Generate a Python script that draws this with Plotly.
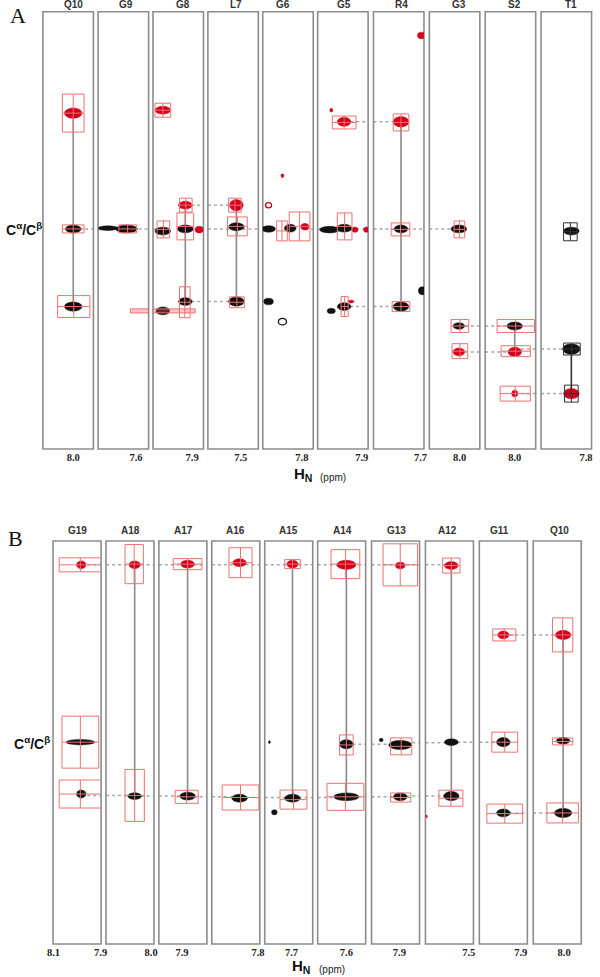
import plotly.graph_objects as go

# ---------------- panel A (residues T1..Q10) ----------------
a_res = ['Q10', 'G9', 'G8', 'L7', 'G6', 'G5', 'R4', 'G3', 'S2', 'T1']
a_hn_left = [8.120, 7.750, 8.055, 7.630, 7.955, 8.075, 7.886, 8.120, 8.117, 7.978]
a_strip_hn = [8.000, 7.640, 7.935, 7.517, 7.873, 7.970, 7.777, 8.003, 8.000, 7.858]
a_ticks = [[8.0], [7.6], [7.9], [7.5], [7.8], [7.9], [7.7], [8.0], [8.0], [7.8]]
a_c_range = [14.8, 75.6]

# peaks: (strip, 1H ppm, 13C ppm, kind, half linewidth H, half linewidth C)
a_peaks = [
    (0, 8.000, 28.9, 'r', 0.035, 0.56), (0, 8.000, 45.0, 'k', 0.031, 0.42),
    (0, 8.000, 55.8, 'k', 0.035, 0.49),
    (1, 7.637, 45.0, 'k', 0.043, 0.42), (1, 7.711, 44.9, 'k', 0.039, 0.25),
    (2, 8.016, 28.5, 'r', 0.031, 0.42), (2, 7.927, 41.7, 'r', 0.027, 0.42),
    (2, 7.927, 45.0, 'k', 0.031, 0.42), (2, 8.016, 45.3, 'k', 0.031, 0.42),
    (2, 7.872, 45.1, 'r', 0.016, 0.35), (2, 7.927, 55.1, 'k', 0.027, 0.42),
    (2, 8.016, 56.4, 'k', 0.027, 0.42),
    (3, 7.517, 41.7, 'r', 0.027, 0.60), (3, 7.517, 44.7, 'k', 0.031, 0.42),
    (3, 7.517, 55.1, 'k', 0.031, 0.49),
    (4, 7.932, 41.7, 'ro', 0.012, 0.28), (4, 7.877, 37.6, 'r', 0.006, 0.20),
    (4, 7.932, 45.0, 'k', 0.027, 0.35), (4, 7.846, 44.9, 'k', 0.023, 0.42),
    (4, 7.788, 44.7, 'r', 0.016, 0.35), (4, 7.932, 55.1, 'k', 0.019, 0.35),
    (4, 7.877, 57.9, 'ko', 0.016, 0.35),
    (5, 8.021, 28.5, 'r', 0.006, 0.20), (5, 7.970, 30.1, 'r', 0.027, 0.49),
    (5, 8.028, 45.1, 'k', 0.039, 0.35), (5, 7.970, 44.9, 'k', 0.031, 0.42),
    (5, 7.927, 45.1, 'r', 0.012, 0.28), (5, 7.881, 45.1, 'r', 0.012, 0.28),
    (5, 8.021, 56.4, 'k', 0.016, 0.28), (5, 7.970, 55.8, 'k', 0.027, 0.42),
    (5, 7.943, 55.1, 'r', 0.012, 0.15),
    (6, 7.777, 30.1, 'r', 0.031, 0.56), (6, 7.696, 18.1, 'r', 0.016, 0.35),
    (6, 7.777, 45.0, 'k', 0.027, 0.42), (6, 7.777, 55.8, 'k', 0.031, 0.49),
    (6, 7.692, 53.6, 'k', 0.016, 0.42),
    (7, 8.003, 45.0, 'k', 0.031, 0.42), (7, 8.003, 58.5, 'k', 0.023, 0.35),
    (7, 8.003, 62.1, 'r', 0.023, 0.42),
    (8, 8.000, 58.5, 'k', 0.031, 0.42), (8, 8.000, 62.1, 'r', 0.027, 0.49),
    (8, 8.000, 67.9, 'r', 0.012, 0.35),
    (9, 7.858, 45.3, 'k', 0.031, 0.42), (9, 7.858, 61.7, 'k', 0.035, 0.56),
    (9, 7.858, 67.9, 'r', 0.031, 0.56),
]

# assignment boxes: (strip, 1H, 13C, half width H, half width C, style)
a_boxes = [
    (0, 8.000, 28.9, 0.043, 2.64, 'r'), (0, 8.000, 45.0, 0.043, 0.56, 'r'),
    (0, 7.998, 55.8, 0.064, 1.53, 'r'),
    (1, 7.633, 45.0, 0.035, 0.56, 'r'), (1, 7.494, 56.4, 0.128, 0.28, 'rf'),
    (2, 8.016, 28.5, 0.031, 0.97, 'r'), (2, 7.925, 41.7, 0.025, 0.97, 'r'),
    (2, 7.927, 44.65, 0.033, 1.875, 'r'), (2, 8.014, 45.07, 0.025, 1.18, 'r'),
    (2, 7.929, 55.2, 0.021, 2.15, 'r'), (2, 8.016, 56.4, 0.128, 0.28, 'rf'),
    (3, 7.523, 41.7, 0.025, 0.97, 'r'), (3, 7.513, 44.65, 0.039, 1.32, 'r'),
    (3, 7.515, 55.2, 0.029, 0.76, 'r'),
    (4, 7.879, 45.28, 0.021, 1.39, 'r'), (4, 7.809, 44.65, 0.041, 2.01, 'r'),
    (5, 7.970, 30.2, 0.047, 0.90, 'r'), (5, 7.968, 44.65, 0.029, 1.875, 'r'),
    (5, 7.968, 55.8, 0.014, 1.39, 'r'),
    (6, 7.777, 30.2, 0.031, 1.18, 'r'), (6, 7.779, 45.07, 0.037, 0.90, 'r'),
    (6, 7.777, 55.8, 0.035, 0.69, 'r'),
    (7, 8.001, 45.07, 0.021, 1.18, 'r'), (7, 7.999, 58.5, 0.035, 0.90, 'r'),
    (7, 7.999, 62.0, 0.031, 1.04, 'r'),
    (8, 7.996, 58.5, 0.074, 0.90, 'r'), (8, 7.996, 62.0, 0.058, 0.76, 'r'),
    (8, 7.998, 67.9, 0.060, 1.04, 'r'),
    (9, 7.862, 45.4, 0.027, 1.25, 'k'), (9, 7.856, 61.7, 0.033, 0.83, 'k'),
    (9, 7.858, 67.9, 0.027, 1.18, 'k'),
]

# intra-residue connections: (strip, 1H, C from, C to, style)
a_vlines = [
    (0, 8.000, 28.9, 55.8, 'g'), (2, 7.927, 41.7, 55.1, 'g'),
    (3, 7.517, 41.7, 55.1, 'g'), (6, 7.777, 30.1, 55.8, 'g'),
    (8, 8.000, 58.5, 62.1, 'g'), (9, 7.858, 61.7, 67.9, 'k'),
]

# sequential walk: (strip a, 1H a, strip b, 1H b, 13C)
a_links = [
    (0, 8.000, 1, 7.637, 45.0), (1, 7.637, 2, 8.016, 45.0), (2, 7.927, 3, 7.517, 45.0),
    (3, 7.517, 4, 7.932, 45.0), (4, 7.788, 5, 8.028, 45.0), (5, 7.970, 6, 7.777, 45.0),
    (6, 7.777, 7, 8.003, 45.0), (2, 7.927, 3, 7.517, 41.7), (5, 7.970, 6, 7.777, 30.1),
    (2, 7.927, 3, 7.517, 55.1), (5, 7.970, 6, 7.777, 55.8), (7, 8.003, 8, 8.000, 58.5),
    (7, 8.003, 8, 8.000, 62.1), (8, 8.000, 9, 7.858, 61.7), (8, 8.000, 9, 7.858, 67.9),
]

# ---------------- panel B (residues Q10..G19) ----------------
b_res = ['G19', 'A18', 'A17', 'A16', 'A15', 'A14', 'G13', 'A12', 'G11', 'Q10']
b_hn_left = [8.102, 8.192, 7.998, 7.996, 7.814, 7.722, 8.018, 7.684, 8.076, 8.131]
b_strip_hn = [7.982, 8.070, 7.876, 7.878, 7.696, 7.600, 7.896, 7.574, 7.974, 8.004]
b_ticks = [[8.1, 7.9], [8.0], [7.9], [7.8], [7.7], [7.6], [7.9], [7.5], [7.9], [8.0]]
b_c_range = [15.6, 73.1]

b_peaks = [
    (0, 7.982, 19.0, 'r', 0.020, 0.43), (0, 7.986, 44.3, 'k', 0.061, 0.30),
    (0, 7.982, 51.7, 'k', 0.020, 0.43),
    (1, 8.070, 19.0, 'r', 0.024, 0.43), (1, 8.070, 52.0, 'k', 0.029, 0.36),
    (2, 7.876, 18.9, 'r', 0.029, 0.43), (2, 7.876, 52.0, 'k', 0.033, 0.43),
    (3, 7.878, 18.7, 'r', 0.029, 0.43), (3, 7.878, 52.3, 'k', 0.033, 0.43),
    (4, 7.696, 18.9, 'r', 0.024, 0.43), (4, 7.696, 52.3, 'k', 0.033, 0.43),
    (4, 7.773, 54.3, 'k', 0.012, 0.28), (4, 7.794, 44.3, 'k', 0.004, 0.15),
    (5, 7.600, 19.0, 'r', 0.041, 0.50), (5, 7.600, 44.6, 'k', 0.029, 0.50),
    (5, 7.600, 52.1, 'k', 0.053, 0.43),
    (6, 7.896, 19.1, 'r', 0.020, 0.36), (6, 7.896, 44.7, 'k', 0.049, 0.50),
    (6, 7.977, 44.0, 'k', 0.008, 0.20), (6, 7.896, 52.1, 'k', 0.029, 0.43),
    (7, 7.574, 19.1, 'r', 0.029, 0.43), (7, 7.574, 44.3, 'k', 0.029, 0.36),
    (7, 7.574, 52.0, 'k', 0.033, 0.50), (7, 7.680, 54.9, 'r', 0.004, 0.15),
    (8, 7.974, 29.0, 'r', 0.024, 0.43), (8, 7.974, 44.3, 'k', 0.029, 0.50),
    (8, 7.974, 54.4, 'k', 0.029, 0.43),
    (9, 8.004, 29.0, 'r', 0.033, 0.50), (9, 8.004, 44.1, 'k', 0.029, 0.36),
    (9, 8.004, 54.4, 'k', 0.037, 0.50),
]

b_boxes = [
    (0, 7.986, 19.0, 0.090, 1.00, 'r'), (0, 7.986, 44.3, 0.078, 3.71, 'r'),
    (0, 7.986, 51.7, 0.090, 2.00, 'r'),
    (1, 8.072, 18.9, 0.039, 2.79, 'r'), (1, 8.070, 51.9, 0.041, 3.71, 'r'),
    (2, 7.876, 18.9, 0.061, 0.79, 'r'), (2, 7.880, 52.1, 0.049, 0.93, 'r'),
    (3, 7.874, 18.7, 0.049, 2.14, 'r'), (3, 7.874, 52.2, 0.078, 1.79, 'r'),
    (4, 7.696, 18.9, 0.033, 0.64, 'r'), (4, 7.692, 52.5, 0.057, 1.36, 'r'),
    (5, 7.604, 18.9, 0.061, 2.07, 'r'), (5, 7.600, 44.7, 0.029, 1.43, 'r'),
    (5, 7.604, 52.1, 0.078, 1.93, 'r'),
    (6, 7.896, 19.0, 0.073, 3.00, 'r'), (6, 7.892, 44.9, 0.045, 1.21, 'r'),
    (6, 7.894, 52.2, 0.043, 0.64, 'r'),
    (7, 7.574, 19.1, 0.037, 1.07, 'r'), (7, 7.576, 52.3, 0.051, 1.14, 'r'),
    (8, 7.970, 29.0, 0.049, 0.86, 'r'), (8, 7.968, 44.3, 0.055, 1.43, 'r'),
    (8, 7.968, 54.5, 0.076, 1.36, 'r'),
    (9, 8.006, 29.0, 0.043, 2.43, 'r'), (9, 8.006, 44.2, 0.043, 0.50, 'r'),
    (9, 8.006, 54.4, 0.067, 1.43, 'r'),
]

b_vlines = [
    (1, 8.070, 19.0, 52.0, 'g'), (2, 7.876, 18.9, 52.0, 'g'), (4, 7.696, 18.9, 52.3, 'g'),
    (5, 7.600, 19.0, 52.1, 'g'), (7, 7.574, 19.1, 52.0, 'g'), (9, 8.004, 29.0, 54.4, 'g'),
]

b_links = [
    (0, 7.982, 1, 8.070, 19.0), (1, 8.070, 2, 7.876, 19.0), (2, 7.876, 3, 7.878, 19.0),
    (3, 7.878, 4, 7.696, 19.0), (4, 7.696, 5, 7.600, 19.0), (5, 7.600, 6, 7.896, 19.0),
    (6, 7.896, 7, 7.574, 19.0),
    (5, 7.600, 6, 7.896, 44.6), (6, 7.896, 7, 7.574, 44.4), (7, 7.574, 8, 7.974, 44.3),
    (0, 7.982, 1, 8.070, 51.9), (1, 8.070, 2, 7.876, 52.0), (2, 7.876, 3, 7.878, 52.1),
    (3, 7.878, 4, 7.696, 52.2), (4, 7.696, 5, 7.600, 52.2), (5, 7.600, 6, 7.896, 52.1),
    (6, 7.896, 7, 7.574, 52.0),
    (8, 7.974, 9, 8.004, 29.0), (8, 7.974, 9, 8.004, 54.4),
]

# ---------------- layout geometry (pixels) ----------------
W, H = 600, 977
RED = '#d3001c'
BLACK = '#111111'
BOX_RED = '#ee7272'
GRAY = '#8c8c8c'
C_SCALE = 1.3   # contour blobs drawn a little taller than the fitted linewidth

panels = [
    dict(res=a_res, left=a_hn_left, hn=a_strip_hn, ticks=a_ticks, crange=a_c_range,
         peaks=a_peaks, boxes=a_boxes, vlines=a_vlines, links=a_links,
         px=[37.7, 94, 150, 206, 262, 318, 375, 432, 489, 546], pw=51.5,
         top=11.7, bot=449, span=0.2, yname='y', lab_shift=0, lab_x=0),
    dict(res=b_res, left=b_hn_left, hn=b_strip_hn, ticks=b_ticks, crange=b_c_range,
         peaks=b_peaks, boxes=b_boxes, vlines=b_vlines, links=b_links,
         px=[48, 102, 156, 210, 264, 318, 373, 428, 483, 538], pw=49,
         top=541, bot=944, span=0.204, yname='y2', lab_shift=3, lab_x=-4),
]

fig = go.Figure()
layout_axes = {}
shapes = []
annotations = []

for p, pan in enumerate(panels):
    yname = pan['yname']
    xnames = []
    for i in range(10):
        n = p * 10 + i + 1
        xn = 'x' if n == 1 else f'x{n}'
        xnames.append(xn)
        key = 'xaxis' if n == 1 else f'xaxis{n}'
        L = pan['left'][i]
        layout_axes[key] = dict(
            domain=[pan['px'][i] / W, (pan['px'][i] + pan['pw']) / W],
            anchor=yname, range=[L, L - pan['span']],
            tickmode='array', tickvals=pan['ticks'][i],
            ticktext=[f'{t:.1f}' for t in pan['ticks'][i]],
            showgrid=False, zeroline=False, showline=False, ticks='',
            tickfont=dict(family='Liberation Serif', size=10.5, color='#222', weight='bold'),
            fixedrange=True)
        # strip frame
        shapes.append(dict(type='rect', xref=f'{xn} domain', yref=f'{yname} domain',
                           x0=0, x1=1, y0=0, y1=1, line=dict(color=GRAY, width=1.6)))
        # residue label
        annotations.append(dict(text=f'<b>{pan["res"][i]}</b>', xref=xn, x=pan['hn'][i],
                                yref=f'{yname} domain', y=1, yanchor='bottom',
                                yshift=pan['lab_shift'], xshift=pan['lab_x'], showarrow=False,
                                font=dict(family='Liberation Sans', size=10, color='#333')))
    ykey = 'yaxis' if p == 0 else 'yaxis2'
    layout_axes[ykey] = dict(domain=[1 - pan['bot'] / H, 1 - pan['top'] / H],
                             anchor=xnames[0], range=[pan['crange'][1], pan['crange'][0]],
                             visible=False, fixedrange=True)

    # sequential dotted walk
    for sa, ha, sb, hb, c in pan['links']:
        end_a = pan['left'][sa] - pan['span']
        start_b = pan['left'][sb]
        for xn, xs in ((xnames[sa], [ha, end_a]), (xnames[sb], [start_b, hb])):
            fig.add_trace(go.Scatter(x=xs, y=[c, c], xaxis=xn, yaxis=yname, mode='lines',
                                     line=dict(color='#a8a8a8', width=1.5, dash='dot'),
                                     showlegend=False, hoverinfo='skip'))
    # vertical connections
    for s, h, c1, c2, st in pan['vlines']:
        fig.add_trace(go.Scatter(x=[h, h], y=[c1, c2], xaxis=xnames[s], yaxis=yname,
                                 mode='lines',
                                 line=dict(color='#333333' if st == 'k' else GRAY, width=1.6),
                                 showlegend=False, hoverinfo='skip'))
    # peaks
    for s, h, c, kind, lw, lc in pan['peaks']:
        col = RED if kind[0] == 'r' else BLACK
        ring = kind.endswith('o')
        lc = lc * C_SCALE
        shapes.append(dict(type='circle', xref=xnames[s], yref=yname,
                           x0=h + lw, x1=h - lw, y0=c - lc, y1=c + lc,
                           fillcolor='rgba(0,0,0,0)' if ring else col,
                           line=dict(color=col, width=1.3 if ring else 0.5)))
    # boxes with cross-hairs
    for s, h, c, dh, dc, st in pan['boxes']:
        bc = '#333333' if st == 'k' else BOX_RED
        if st == 'rf':
            shapes.append(dict(type='rect', xref=xnames[s], yref=yname,
                               x0=h + dh, x1=h - dh, y0=c - dc, y1=c + dc,
                               fillcolor='rgba(238,90,90,0.35)', line=dict(color=BOX_RED, width=1)))
            continue
        shapes.append(dict(type='rect', xref=xnames[s], yref=yname,
                           x0=h + dh, x1=h - dh, y0=c - dc, y1=c + dc,
                           line=dict(color=bc, width=1)))
        shapes.append(dict(type='line', xref=xnames[s], yref=yname,
                           x0=h + dh, x1=h - dh, y0=c, y1=c, line=dict(color=bc, width=1)))
        shapes.append(dict(type='line', xref=xnames[s], yref=yname,
                           x0=h, x1=h, y0=c - dc, y1=c + dc, line=dict(color=bc, width=1)))

# panel letters and axis captions
for letter, x, y in (('A', 12, 15), ('B', 10, 538)):
    annotations.append(dict(text=letter, xref='paper', yref='paper', x=x / W, y=1 - y / H,
                            showarrow=False, xanchor='center', yanchor='middle',
                            font=dict(family='Liberation Serif', size=22, color='#111')))
for x, y in ((18, 229), (27, 743)):
    annotations.append(dict(text='<b>C<sup>α</sup>/C<sup>β</sup></b>', xref='paper', yref='paper',
                            x=x / W, y=1 - y / H, showarrow=False, xanchor='center', yanchor='middle',
                            font=dict(family='Liberation Sans', size=14, color='#111')))
for xh, xp, y in ((292, 318, 474), (290, 317, 966)):
    annotations.append(dict(text='<b>H<sub>N</sub></b>', xref='paper', yref='paper',
                            x=xh / W, y=1 - y / H, showarrow=False, xanchor='left', yanchor='middle',
                            font=dict(family='Liberation Sans', size=15, color='#111')))
    annotations.append(dict(text='(ppm)', xref='paper', yref='paper',
                            x=xp / W, y=1 - (y + 3) / H, showarrow=False, xanchor='left',
                            yanchor='middle',
                            font=dict(family='Liberation Sans', size=10, color='#222')))

fig.update_layout(
    width=W, height=H, margin=dict(l=0, r=0, t=0, b=0),
    plot_bgcolor='white', paper_bgcolor='white',
    showlegend=False, shapes=shapes, annotations=annotations,
    **layout_axes)

fig.write_html('out.html', config={'displayModeBar': False},
               post_script="document.body.style.margin='0';document.body.style.overflow='hidden';")
